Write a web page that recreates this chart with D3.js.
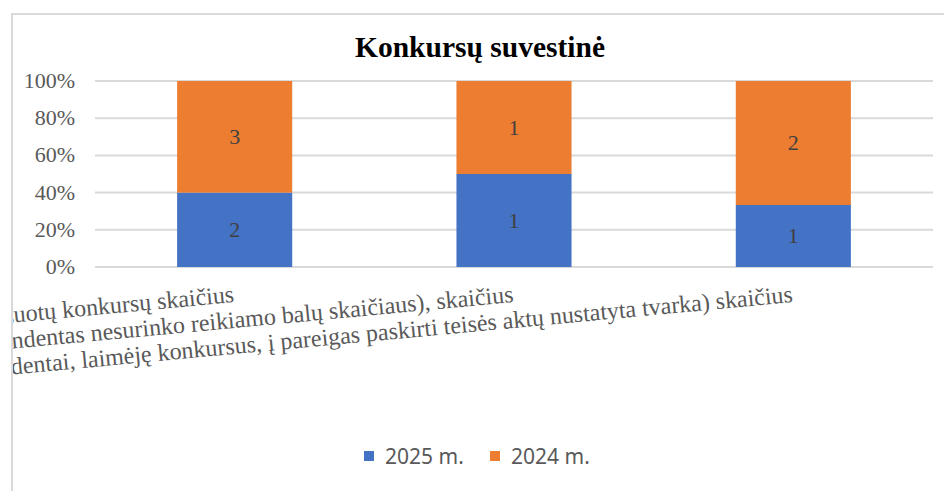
<!DOCTYPE html>
<html>
<head>
<meta charset="utf-8">
<script src="https://cdn.jsdelivr.net/npm/d3@7"></script>
<style>
  body { margin: 0; background: #fff; }
  svg { display: block; }
</style>
</head>
<body>
<svg id="chart" width="944" height="491"></svg>
<script>
// chart data
const categories = [
  "Organizuotų konkursų skaičius",
  "Neįvykusių konkursų (pretendentas nesurinko reikiamo balų skaičiaus), skaičius",
  "Įvykusių konkursų (pretendentai, laimėję konkursus, į pareigas paskirti teisės aktų nustatyta tvarka) skaičius"
];
const seriesNames = ["2025 m.", "2024 m."];
const values2025 = [2, 1, 1];
const values2024 = [3, 1, 2];
const yTicks = [0, 0.2, 0.4, 0.6, 0.8, 1];
const title = "Konkursų suvestinė";

const colors = ["#4472C4", "#ED7D31"];
const serif = "'Liberation Serif', 'Times New Roman', serif";

const svg = d3.select("#chart");

const margin = { left: 95, right: 11, top: 81, bottom: 224 };
const width = 944, height = 491;

// frame of the chart area (only left and top are visible)
svg.append("line")
  .attr("x1", 12).attr("y1", 14).attr("x2", 12).attr("y2", height)
  .attr("stroke", "#d9d9d9").attr("stroke-width", 2);
svg.append("line")
  .attr("x1", 11).attr("y1", 14).attr("x2", width).attr("y2", 14)
  .attr("stroke", "#d9d9d9").attr("stroke-width", 2);

const x = d3.scaleBand()
  .domain(categories)
  .range([margin.left, width - margin.right])
  .padding(0);

const y = d3.scaleLinear()
  .domain([0, 1])
  .range([height - margin.bottom, margin.top]);

const barW = x.bandwidth() * 0.412;

// gridlines
svg.append("g")
  .selectAll("line")
  .data(yTicks)
  .join("line")
  .attr("x1", margin.left)
  .attr("x2", width - margin.right)
  .attr("y1", (d) => y(d))
  .attr("y2", (d) => y(d))
  .attr("stroke", "#d9d9d9")
  .attr("stroke-width", 2);

// y axis labels
svg.append("g")
  .selectAll("text")
  .data(yTicks)
  .join("text")
  .attr("x", 75)
  .attr("y", (d) => y(d) + 7)
  .attr("text-anchor", "end")
  .style("font-family", serif)
  .style("font-size", "22px")
  .attr("fill", "#595959")
  .text((d) => d3.format(".0%")(d));

// stacked 100% data
const rows = categories.map((c, i) => ({ cat: c, a: values2025[i], b: values2024[i] }));
const stack = d3.stack().keys(["a", "b"]).offset(d3.stackOffsetExpand);
const layers = stack(rows);

const layerG = svg.append("g")
  .selectAll("g")
  .data(layers)
  .join("g")
  .attr("fill", (d, i) => colors[i]);

layerG.selectAll("rect")
  .data((d) => d)
  .join("rect")
  .attr("x", (d) => x(d.data.cat) + (x.bandwidth() - barW) / 2)
  .attr("width", barW)
  .attr("y", (d) => y(d[1]))
  .attr("height", (d) => y(d[0]) - y(d[1]));

// data labels
layers.forEach((layer) => {
  svg.append("g")
    .selectAll("text")
    .data(layer)
    .join("text")
    .attr("x", (d) => x(d.data.cat) + x.bandwidth() / 2)
    .attr("y", (d) => (y(d[0]) + y(d[1])) / 2 + 7)
    .attr("text-anchor", "middle")
    .style("font-family", serif)
    .style("font-size", "22px")
    .attr("fill", "#404040")
    .text((d) => d.data[layer.key]);
});

// category labels, rotated and clipped by the chart frame
svg.append("clipPath")
  .attr("id", "clip")
  .append("rect")
  .attr("x", 13).attr("y", 15).attr("width", width).attr("height", height);

svg.append("g")
  .attr("clip-path", "url(#clip)")
  .selectAll("text")
  .data(categories)
  .join("text")
  .attr("transform", (d) => "translate(" + (x(d) + x.bandwidth() / 2) + ",302) rotate(-5.3)")
  .attr("text-anchor", "end")
  .style("font-family", serif)
  .style("font-size", "24px")
  .attr("fill", "#595959")
  .text((d) => d);

// title
svg.append("text")
  .attr("x", 480)
  .attr("y", 57)
  .attr("text-anchor", "middle")
  .style("font-family", serif)
  .style("font-size", "29.5px")
  .style("font-weight", "bold")
  .attr("fill", "#000")
  .text(title);

// legend
const legendX = [364, 490];
const legend = svg.append("g")
  .selectAll("g")
  .data(seriesNames)
  .join("g")
  .attr("transform", (d, i) => "translate(" + legendX[i] + ",451)");

legend.append("rect")
  .attr("width", 10).attr("height", 10)
  .attr("fill", (d, i) => colors[i]);

legend.append("text")
  .attr("x", 21)
  .attr("y", 13)
  .style("font-family", "'Noto Sans', sans-serif")
  .style("font-size", "21px")
  .attr("fill", "#595959")
  .text((d) => d);
</script>
</body>
</html>
